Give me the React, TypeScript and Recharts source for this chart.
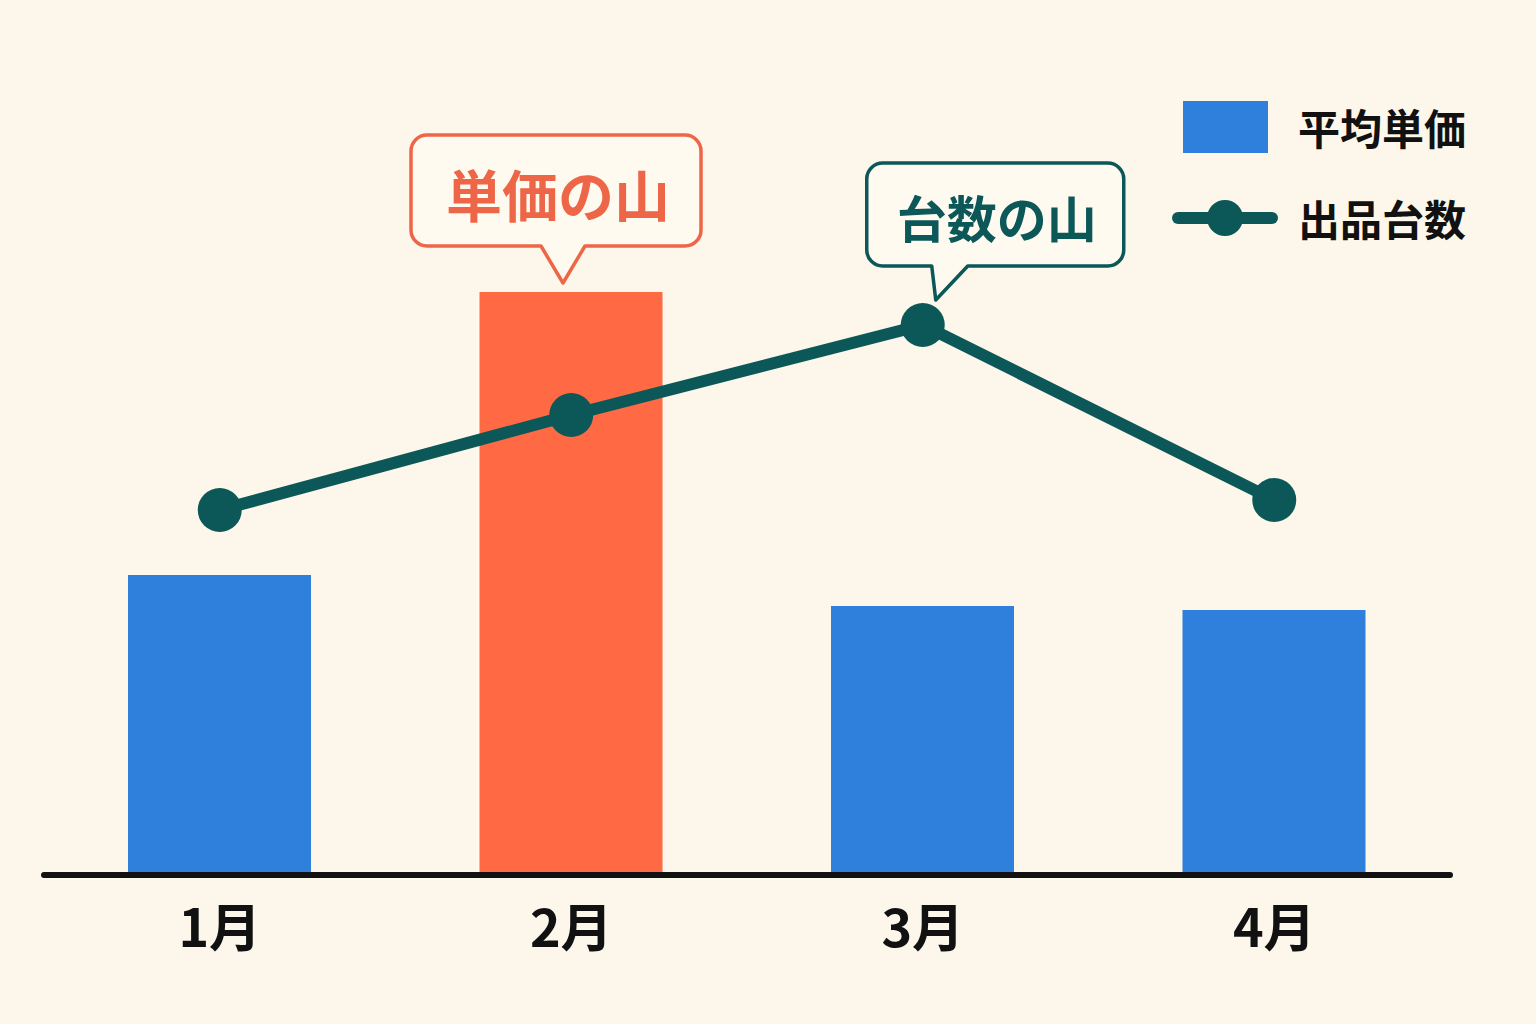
import React from 'react';
import { ComposedChart, Bar, Line, XAxis, YAxis, Cell, LabelList, ReferenceLine, Legend } from 'recharts';

// 月別データ
const months = ['1月', '2月', '3月', '4月'];
const avgPrice = [30.0, 58.3, 26.9, 26.5]; // 平均単価（万円）
const listings = [73, 92, 110, 75]; // 出品台数（台）
const legendLabels = ['平均単価', '出品台数'];
const priceCallout = '単価の山';
const countCallout = '台数の山';

const BG = '#FCF7EA';
const BLUE = '#2F80DC';
const ORANGE = '#FF6A45';
const CALLOUT_RED = '#EE6648';
const TEAL = '#0C5858';
const INK = '#111111';
const FONT = '"Noto Sans CJK JP", "Noto Sans", sans-serif';

const peakPrice = avgPrice.indexOf(Math.max(...avgPrice));
const peakCount = listings.indexOf(Math.max(...listings));

const data = months.map((m, i) => ({ month: m, price: avgPrice[i], count: listings[i] }));

// 吹き出しの枠（角丸＋しっぽ）
const bubblePath = (l: number, t: number, r: number, b: number, rad: number,
  baseL: number, baseR: number, tipX: number, tipY: number) =>
  `M${l + rad},${t} H${r - rad} A${rad},${rad} 0 0 1 ${r},${t + rad} V${b - rad} ` +
  `A${rad},${rad} 0 0 1 ${r - rad},${b} H${baseR} L${tipX},${tipY} L${baseL},${b} ` +
  `H${l + rad} A${rad},${rad} 0 0 1 ${l},${b - rad} V${t + rad} A${rad},${rad} 0 0 1 ${l + rad},${t} Z`;

const PriceCallout = (props: any) => {
  if (props.index !== peakPrice) return null;
  const vb = props.viewBox || props;
  const x = props.x ?? vb.x;
  const y = props.y ?? vb.y;
  const w = props.width ?? vb.width;
  const cx = x + w / 2;
  return (
    <g>
      <path
        d={bubblePath(cx - 160, y - 157, cx + 130, y - 46, 16, cx - 30, cx + 14, cx - 8, y - 9)}
        fill="#FFFAF0"
        stroke={CALLOUT_RED}
        strokeWidth={3.5}
        strokeLinejoin="round"
      />
      <text x={cx - 13} y={y - 100} textAnchor="middle" dominantBaseline="central"
        fontFamily={FONT} fontWeight={700} fontSize={56} fill={CALLOUT_RED}>
        {priceCallout}
      </text>
    </g>
  );
};

const CountCallout = (props: any) => {
  if (props.index !== peakCount) return null;
  const vb = props.viewBox || props;
  const x = props.x ?? vb.x;
  const y = props.y ?? vb.y;
  return (
    <g>
      <path
        d={bubblePath(x - 56, y - 162, x + 201, y - 59, 16, x + 9, x + 45, x + 13, y - 25)}
        fill="#FFFAF0"
        stroke={TEAL}
        strokeWidth={3.5}
        strokeLinejoin="round"
      />
      <text x={x + 74} y={y - 109} textAnchor="middle" dominantBaseline="central"
        fontFamily={FONT} fontWeight={700} fontSize={50} fill={TEAL}>
        {countCallout}
      </text>
    </g>
  );
};

const MonthTick = ({ x, y, payload }: any) => (
  <text x={x} y={y} dy={49} textAnchor="middle" dominantBaseline="central"
    fontFamily={FONT} fontWeight={700} fontSize={52} fill={INK}>
    {payload.value}
  </text>
);

const LegendContent = () => (
  <div style={{ fontFamily: FONT }}>
    {legendLabels.map((label, i) => (
      <div key={label} style={{ display: 'flex', alignItems: 'center', height: 60, marginBottom: 31 }}>
        <svg width={106} height={60}>
          {i === 0 ? (
            <rect x={11} y={4} width={85} height={52} fill={BLUE} />
          ) : (
            <>
              <line x1={6} y1={30} x2={100} y2={30} stroke={TEAL} strokeWidth={12} strokeLinecap="round" />
              <circle cx={53} cy={30} r={18} fill={TEAL} />
            </>
          )}
        </svg>
        <span style={{ marginLeft: 20, fontSize: 42, fontWeight: 700, color: INK, lineHeight: 1 }}>{label}</span>
      </div>
    ))}
  </div>
);

export default function App() {
  return (
    <div style={{ position: 'absolute', left: 0, top: 0, width: 1536, height: 1024, background: BG }}>
      <ComposedChart width={1536} height={1024} data={data}
        margin={{ top: 175, right: 86, left: 44, bottom: 0 }}>
        <XAxis dataKey="month" axisLine={false} tickLine={false} tickSize={0} tickMargin={0}
          height={149} tick={<MonthTick />} interval={0} />
        <YAxis yAxisId="price" domain={[0, 70]} hide />
        <YAxis yAxisId="count" orientation="right" domain={[0, 140]} hide />
        <Legend content={<LegendContent />} layout="vertical" align="center" verticalAlign="middle"
          wrapperStyle={{ top: 97, left: 1172, width: 340 }} />
        <Bar yAxisId="price" dataKey="price" barSize={183} isAnimationActive={false}>
          {data.map((d, i) => (
            <Cell key={d.month} fill={i === peakPrice ? ORANGE : BLUE} />
          ))}
          <LabelList dataKey="price" content={<PriceCallout />} />
        </Bar>
        <ReferenceLine yAxisId="price" y={0} stroke={INK} strokeWidth={6} strokeLinecap="round" />
        <Line yAxisId="count" dataKey="count" type="linear" stroke={TEAL} strokeWidth={12}
          strokeLinecap="round" strokeLinejoin="round"
          dot={{ r: 22, fill: TEAL, stroke: TEAL, strokeWidth: 0 }} activeDot={false}
          isAnimationActive={false}>
          <LabelList dataKey="count" content={<CountCallout />} />
        </Line>
      </ComposedChart>
    </div>
  );
}
